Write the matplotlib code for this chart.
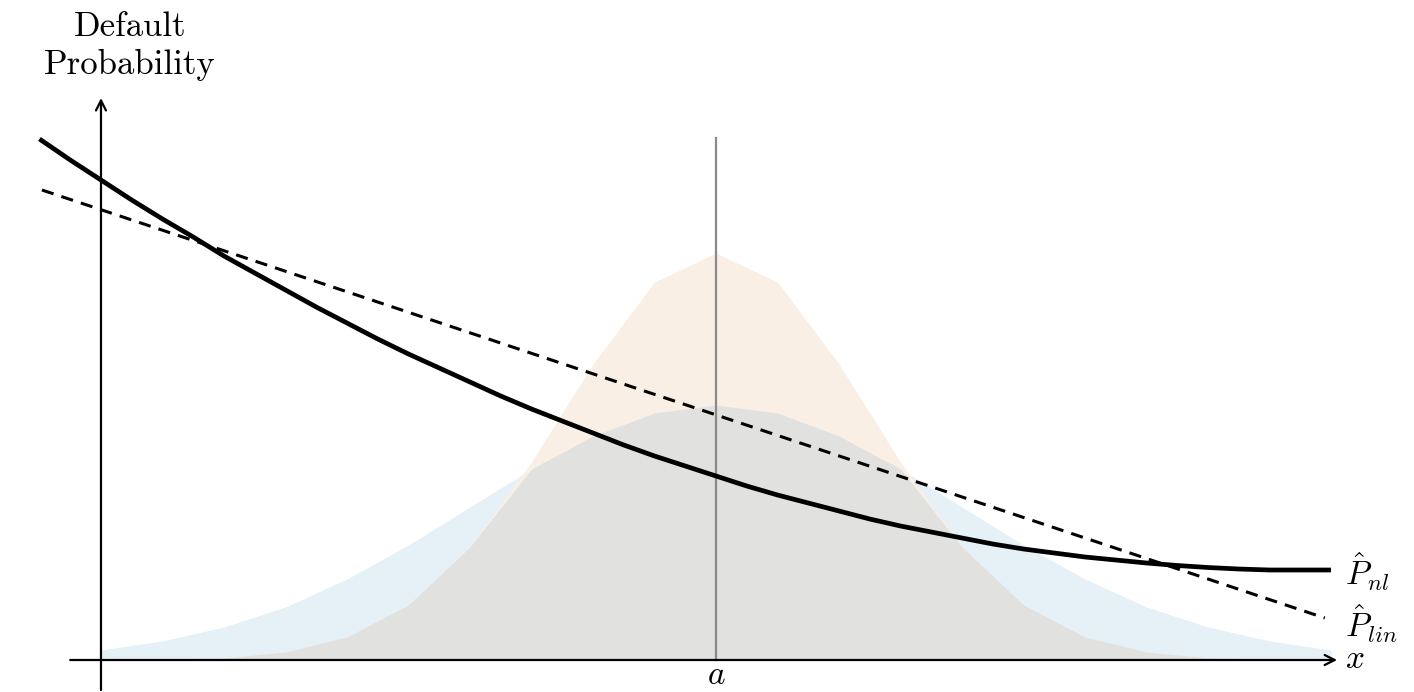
#importing dependencies
import numpy as np
import matplotlib
matplotlib.use("Agg")
import matplotlib.pyplot as plt

plt.rcParams['mathtext.fontset'] = 'cm'

#values (x in units where a = 5)
x_dens = [0.0, 0.5, 1.0, 1.5, 2.0, 2.5, 3.0, 3.5, 4.0, 4.5, 5.0,
          5.5, 6.0, 6.5, 7.0, 7.5, 8.0, 8.5, 9.0, 9.5, 10.0]
#narrow distribution (orange)
dens_narrow = [0.00, 0.01, 0.02, 0.08, 0.23, 0.55, 1.13, 1.98, 2.96, 3.78, 4.07,
               3.78, 2.96, 1.98, 1.13, 0.55, 0.23, 0.08, 0.02, 0.01, 0.00]
#wide distribution (blue)
dens_wide = [0.10, 0.19, 0.33, 0.53, 0.81, 1.15, 1.53, 1.91, 2.24, 2.47, 2.55,
             2.47, 2.24, 1.91, 1.53, 1.15, 0.81, 0.53, 0.33, 0.19, 0.10]

#non linear default probability curve
x_curve = [-0.5, -0.25, 0.0, 0.25, 0.5, 0.75, 1.0, 1.25, 1.5, 1.75, 2.0, 2.25,
           2.5, 2.75, 3.0, 3.25, 3.5, 3.75, 4.0, 4.25, 4.5, 4.75, 5.0, 5.25,
           5.5, 5.75, 6.0, 6.25, 6.5, 6.75, 7.0, 7.25, 7.5, 7.75, 8.0, 8.25,
           8.5, 8.75, 9.0, 9.25, 9.5, 9.75, 10.0]
p_nl = [5.21, 5.00, 4.80, 4.60, 4.41, 4.23, 4.04, 3.87, 3.70, 3.53, 3.37, 3.21,
        3.06, 2.92, 2.78, 2.64, 2.51, 2.39, 2.27, 2.15, 2.04, 1.94, 1.84, 1.74,
        1.65, 1.57, 1.49, 1.41, 1.34, 1.28, 1.22, 1.16, 1.11, 1.07, 1.03, 1.00,
        0.97, 0.945, 0.925, 0.91, 0.90, 0.90, 0.90]

#linear approximation
x_lin = [-0.48, 9.95]
p_lin = [4.70, 0.42]

a_pos = 5.0

fig = plt.figure(figsize=(14.14, 6.92), dpi=100)
ax = fig.add_axes([0, 0, 1, 1])
ax.set_xlim(-0.821, 10.675)
ax.set_ylim(-0.32, 6.60)
ax.axis('off')

#filled distributions, overlap drawn in grey
x_d = np.array(x_dens)
narrow = np.array(dens_narrow)
wide = np.array(dens_wide)
ax.fill_between(x_d, 0, wide, color='#e5f0f7', lw=0)
ax.fill_between(x_d, 0, narrow, color='#faefe5', lw=0)
ax.fill_between(x_d, 0, np.minimum(narrow, wide), color='#e1e1df', lw=0)

#vertical line at a
ax.plot([a_pos, a_pos], [0, 5.22], color='#8a8a8a', lw=1.6)

#axes with arrows
ax.annotate('', xy=(0, 5.62), xytext=(0, -0.30),
            arrowprops=dict(arrowstyle='->', lw=1.6, color='black',
                            mutation_scale=18, shrinkA=0, shrinkB=0))
ax.annotate('', xy=(10.05, 0), xytext=(-0.25, 0),
            arrowprops=dict(arrowstyle='->', lw=1.6, color='black',
                            mutation_scale=18, shrinkA=0, shrinkB=0))

#curves
ax.plot(x_curve, p_nl, color='black', lw=3.4, solid_capstyle='butt',
        solid_joinstyle='round')
ax.plot(x_lin, p_lin, color='black', lw=2.2, dashes=(4, 2.7), dash_capstyle='butt')

#labels
ax.text(0.236, 6.14, 'Default\nProbability', family='cmr10', fontsize=25,
        ha='center', va='center', linespacing=1.25)
ax.text(10.11, 0.75, r'$\hat{P}_{nl}$', fontsize=24, ha='left', va='baseline')
ax.text(10.11, 0.23, r'$\hat{P}_{lin}$', fontsize=24, ha='left', va='baseline')
ax.text(10.11, -0.08, r'$x$', fontsize=24, ha='left', va='baseline')
ax.text(a_pos, -0.245, r'$a$', fontsize=24, ha='center', va='baseline')

plt.savefig('out.png', dpi=100)
